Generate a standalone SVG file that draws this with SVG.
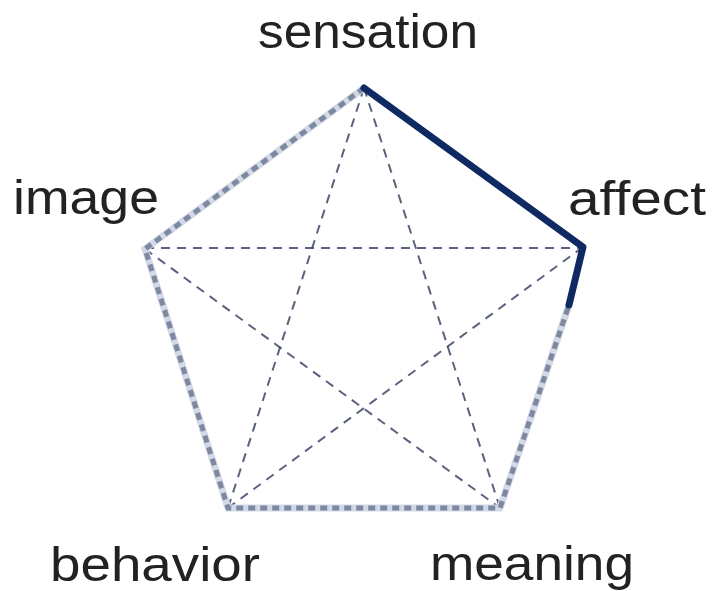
<svg xmlns="http://www.w3.org/2000/svg" width="714" height="591" viewBox="0 0 714 591">
<style>
.lbl{font-family:"Liberation Sans",Arial,sans-serif;font-size:49px;fill:#222222}
.solid{fill:none;stroke:#0f2a63;stroke-width:7;stroke-linecap:round;stroke-linejoin:round}
.base{fill:none;stroke:#d3d9e6;stroke-width:7;stroke-linecap:butt}
.dash{fill:none;stroke:#66748f;stroke-width:5;stroke-dasharray:7 5;opacity:.8}
.inner{fill:none;stroke:#3d4866;stroke-width:2;stroke-dasharray:9 7;opacity:.85}
</style>
<rect width="714" height="591" fill="#ffffff"/>
<g id="connectors">
<line class="inner" x1="145" y1="248" x2="583" y2="248"/>
<line class="inner" x1="364" y1="88" x2="228" y2="508"/>
<line class="inner" x1="364" y1="88" x2="500" y2="508"/>
<line class="inner" x1="145" y1="249" x2="500" y2="508"/>
<line class="inner" x1="583" y1="247" x2="228" y2="508"/>
<path class="base" d="M364,88 L145,249 L228,508 L500,508 L569,305"/>
<path class="dash" d="M364,88 L145,249 L228,508 L500,508 L569,305"/>
<path class="solid" d="M364,88 L583,247 L569,305"/>
</g>
<g id="node-sensation"><text class="lbl" x="258" y="48" textLength="220" lengthAdjust="spacingAndGlyphs">sensation</text></g>
<g id="node-image"><text class="lbl" x="13" y="214" textLength="146" lengthAdjust="spacingAndGlyphs">image</text></g>
<g id="node-affect"><text class="lbl" x="568" y="215" textLength="138" lengthAdjust="spacingAndGlyphs">affect</text></g>
<g id="node-behavior"><text class="lbl" x="50" y="581" textLength="210" lengthAdjust="spacingAndGlyphs">behavior</text></g>
<g id="node-meaning"><text class="lbl" x="430" y="580" textLength="204" lengthAdjust="spacingAndGlyphs">meaning</text></g>
</svg>
